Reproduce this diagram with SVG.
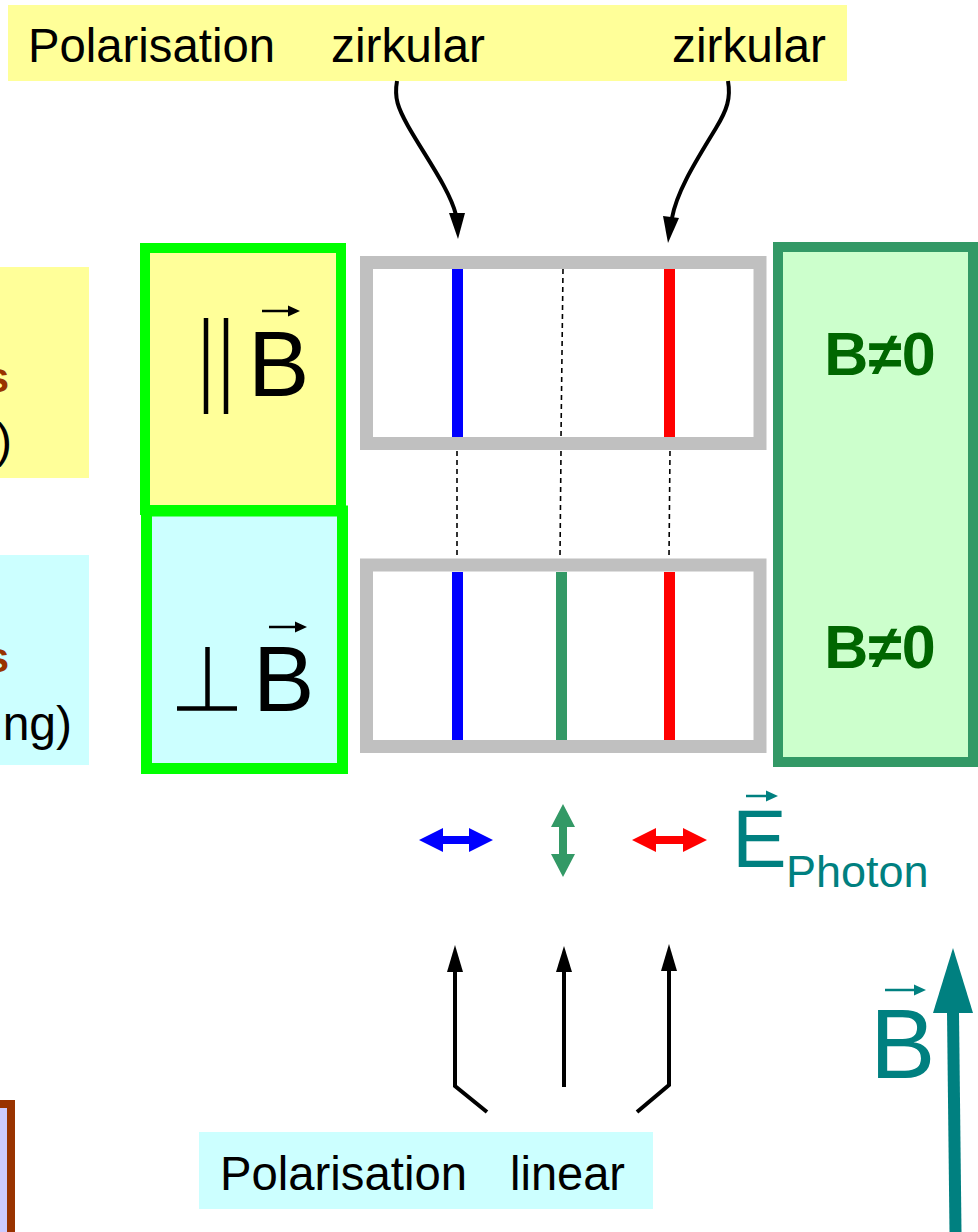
<svg xmlns="http://www.w3.org/2000/svg" width="978" height="1232" viewBox="0 0 978 1232">
<style>
text{font-family:"Liberation Sans",Arial,sans-serif}
.lbl{font-size:48px;fill:#000}
.bneq{font-size:61px;font-weight:bold;fill:#006600;text-anchor:middle}
.gray{fill:#fff;stroke:#C0C0C0;stroke-width:13}
.dash{stroke:#000;stroke-width:1.6;stroke-dasharray:5 4;fill:none}
.conn{stroke:#000;stroke-width:4;fill:none}
.brown{font-size:42px;font-weight:bold;fill:#993300;text-anchor:end}
</style>
<rect width="978" height="1232" fill="#fff"/>

<g id="left-yellow-partial">
<rect x="0" y="267" width="89" height="211" fill="#FFFF99"/>
<text class="brown" x="9" y="392">s</text>
<text class="lbl" x="12" y="457" text-anchor="end">)</text>
</g>
<g id="left-cyan-partial">
<rect x="0" y="555" width="89" height="210" fill="#CCFFFF"/>
<text class="brown" x="9" y="672">s</text>
<text class="lbl" x="72" y="740" text-anchor="end">ng)</text>
</g>
<g id="left-lavender-partial">
<rect x="-20" y="1104" width="31" height="200" fill="#CCCCFF" stroke="#993300" stroke-width="8"/>
</g>

<g id="top-label">
<rect x="8" y="5" width="839" height="76" fill="#FFFF99"/>
<text class="lbl" x="28" y="62" textLength="247" lengthAdjust="spacingAndGlyphs">Polarisation</text>
<text class="lbl" x="331" y="62" textLength="154" lengthAdjust="spacingAndGlyphs">zirkular</text>
<text class="lbl" x="672" y="62" textLength="154" lengthAdjust="spacingAndGlyphs">zirkular</text>
</g>

<g id="par-B">
<rect x="145" y="248" width="196" height="262" fill="#FFFF99" stroke="#00FF00" stroke-width="10"/>
<line x1="206" y1="318" x2="206" y2="414" stroke="#000" stroke-width="4.5"/>
<line x1="226" y1="318" x2="226" y2="414" stroke="#000" stroke-width="4.5"/>
<text x="248" y="396" font-size="92" fill="#000">B</text>
<line x1="262" y1="311" x2="291" y2="311" stroke="#000" stroke-width="2.5"/>
<polygon points="300,311 288,305.5 288,316.5" fill="#000"/>
</g>

<g id="perp-B">
<rect x="146.5" y="511" width="196" height="257.5" fill="#CCFFFF" stroke="#00FF00" stroke-width="11"/>
<line x1="207.5" y1="647" x2="207.5" y2="710" stroke="#000" stroke-width="4.5"/>
<line x1="177" y1="708.5" x2="237" y2="708.5" stroke="#000" stroke-width="4.5"/>
<text x="253" y="711" font-size="92" fill="#000">B</text>
<line x1="269" y1="627" x2="298" y2="627" stroke="#000" stroke-width="2.5"/>
<polygon points="307,627 295,621.5 295,632.5" fill="#000"/>
</g>

<g id="spectrum-top">
<rect class="gray" x="366.5" y="262.5" width="393.5" height="181"/>
<line x1="457.5" y1="269" x2="457.5" y2="437" stroke="#0000FF" stroke-width="11"/>
<line x1="669.5" y1="269" x2="669.5" y2="437" stroke="#FF0000" stroke-width="11"/>
</g>

<g id="spectrum-bottom">
<rect class="gray" x="366.5" y="565" width="393.5" height="181.5"/>
<line x1="457.5" y1="572" x2="457.5" y2="740" stroke="#0000FF" stroke-width="11"/>
<line x1="561.5" y1="572" x2="561.5" y2="740" stroke="#339966" stroke-width="11"/>
<line x1="669.5" y1="572" x2="669.5" y2="740" stroke="#FF0000" stroke-width="11"/>
</g>

<g id="field-box">
<rect x="778" y="247" width="195" height="515" fill="#CCFFCC" stroke="#339966" stroke-width="10"/>
<text class="bneq" x="880" y="375">B≠0</text>
<text class="bneq" x="880" y="668">B≠0</text>
</g>

<g id="e-photon">
<polygon points="419,840 443,828 443,836 469,836 469,828 493,840 469,852 469,844 443,844 443,852" fill="#0000FF"/>
<polygon points="563,804 575,827 567,827 567,854 575,854 563,877 551,854 559,854 559,827 551,827" fill="#339966"/>
<polygon points="632,840 656,828 656,836 683,836 683,828 707,840 683,852 683,844 656,844 656,852" fill="#FF0000"/>
<text x="732" y="867" font-size="82" fill="#008080">E</text>
<line x1="746" y1="796" x2="769" y2="796" stroke="#008080" stroke-width="2.5"/>
<polygon points="778,796 766,790.5 766,801.5" fill="#008080"/>
<text x="786" y="887" font-size="45" fill="#008080">Photon</text>
</g>

<g id="bottom-label">
<rect x="199" y="1132" width="454" height="77" fill="#CCFFFF"/>
<text class="lbl" x="220" y="1190" textLength="247" lengthAdjust="spacingAndGlyphs">Polarisation</text>
<text class="lbl" x="510" y="1190" textLength="115" lengthAdjust="spacingAndGlyphs">linear</text>
</g>

<g id="B-field-arrow">
<polygon points="947,1012 959,1012 961.5,1232 949.5,1232" fill="#008080"/>
<polygon points="953,948 973,1013 933,1013" fill="#008080"/>
<text x="870" y="1078" font-size="98" fill="#008080">B</text>
<line x1="885" y1="990" x2="916" y2="990" stroke="#008080" stroke-width="2.5"/>
<polygon points="926,990 914,984.5 914,995.5" fill="#008080"/>
</g>

<g id="connectors">
<line class="dash" x1="563" y1="269" x2="561" y2="437"/>
<line class="dash" x1="457" y1="451" x2="457" y2="558"/>
<line class="dash" x1="561" y1="451" x2="560" y2="556"/>
<line class="dash" x1="670" y1="451" x2="669" y2="556"/>
<path class="conn" d="M397,81 C394,98 398,108 408,126 C425,156 450,190 456,215"/>
<polygon points="458,239 449,213 465,213" fill="#000"/>
<path class="conn" d="M728,81 C731,98 727,110 716,128 C698,158 677,190 672,218"/>
<polygon points="668,243 663,216 679,218" fill="#000"/>
<polyline class="conn" points="487,1112 455,1086 455,970"/>
<polygon points="455,945 447,972 463,972" fill="#000"/>
<line class="conn" x1="564" y1="1087" x2="564" y2="970"/>
<polygon points="564,946 556,972 572,972" fill="#000"/>
<polyline class="conn" points="637,1112 669,1085 669,970"/>
<polygon points="669,944 661,971 677,971" fill="#000"/>
</g>
</svg>
